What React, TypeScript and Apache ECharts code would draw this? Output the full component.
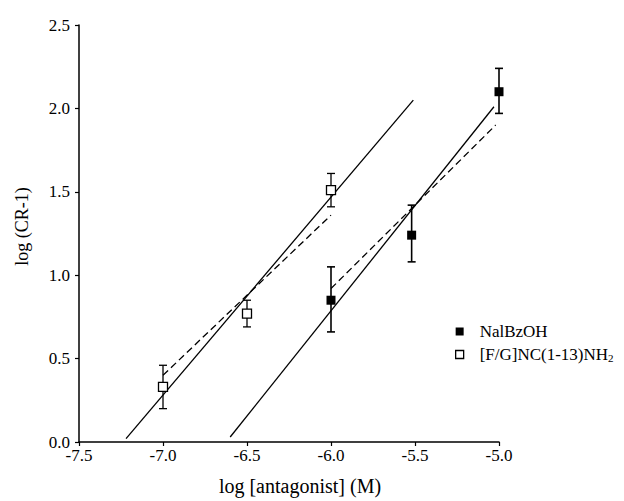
import React, { useEffect, useRef } from "react";
import * as echarts from "echarts";

// Tick values
const xTicks = [-7.5, -7.0, -6.5, -6.0, -5.5, -5.0];
const yTicks = [0.0, 0.5, 1.0, 1.5, 2.0, 2.5];

// NalBzOH (filled squares)
const filledX = [-6.0, -5.52, -5.0];
const filledY = [0.85, 1.24, 2.1];
const filledLow = [0.66, 1.08, 1.97];
const filledHigh = [1.05, 1.42, 2.24];

// [F/G]NC(1-13)NH2 (open squares)
const openX = [-7.0, -6.5, -6.0];
const openY = [0.33, 0.77, 1.51];
const openLow = [0.2, 0.69, 1.41];
const openHigh = [0.46, 0.85, 1.61];

// Regression lines (endpoints)
const openSolidX = [-7.22, -5.51];
const openSolidY = [0.02, 2.05];
const openDashX = [-7.0, -6.0];
const openDashY = [0.4, 1.36];
const filledSolidX = [-6.6, -5.03];
const filledSolidY = [0.03, 2.01];
const filledDashX = [-6.0, -5.02];
const filledDashY = [0.92, 1.9];

const FONT = "'Liberation Serif', 'Times New Roman', serif";

const zip = (a: number[], b: number[]) => a.map((v, i) => [v, b[i]]);
const zip3 = (a: number[], b: number[], c: number[]) => a.map((v, i) => [v, b[i], c[i]]);

const errorBar = (lw: number) => (params: any, api: any) => {
  const x = api.value(0);
  const lo = api.coord([x, api.value(1)]);
  const hi = api.coord([x, api.value(2)]);
  const hw = 4;
  const style = { stroke: "#000", lineWidth: lw };
  return {
    type: "group",
    children: [
      { type: "line", shape: { x1: lo[0], y1: lo[1], x2: hi[0], y2: hi[1] }, style },
      { type: "line", shape: { x1: lo[0] - hw, y1: lo[1], x2: lo[0] + hw, y2: lo[1] }, style },
      { type: "line", shape: { x1: hi[0] - hw, y1: hi[1], x2: hi[0] + hw, y2: hi[1] }, style },
    ],
  };
};

const lineSeries = (name: string, xs: number[], ys: number[], dashed: boolean) => ({
  name,
  type: "line",
  data: zip(xs, ys),
  symbol: "none",
  lineStyle: { color: "#000", width: 1.3, type: dashed ? [7, 4] : "solid" },
  z: 2,
  silent: true,
});

export default function App() {
  const ref = useRef<HTMLDivElement>(null);
  useEffect(() => {
    if (!ref.current) return;
    const chart = echarts.init(ref.current, undefined, { renderer: "svg" });
    const axisCommon = {
      type: "value",
      splitLine: { show: false },
      axisLine: { show: true, lineStyle: { color: "#000", width: 1.5 } },
      axisTick: { show: true, inside: false, length: 4, lineStyle: { color: "#000", width: 1.2 } },
      axisLabel: {
        color: "#000",
        fontFamily: FONT,
        fontSize: 17,
        formatter: (v: number) => v.toFixed(1),
      },
      nameTextStyle: { color: "#000", fontFamily: FONT, fontSize: 18 },
    };
    chart.setOption({
      animation: false,
      backgroundColor: "#fff",
      grid: { left: 79, right: 125, top: 25, bottom: 56, containLabel: false },
      xAxis: {
        ...axisCommon,
        min: xTicks[0],
        max: xTicks[xTicks.length - 1],
        interval: 0.5,
        name: "log [antagonist] (M)",
        nameLocation: "middle",
        nameGap: 34,
        nameTextStyle: { ...axisCommon.nameTextStyle, fontSize: 20, padding: [0, 0, 0, 22] },
        axisLabel: { ...axisCommon.axisLabel, margin: 5 },
      },
      yAxis: {
        ...axisCommon,
        min: yTicks[0],
        max: yTicks[yTicks.length - 1],
        interval: 0.5,
        name: "log (CR-1)",
        nameLocation: "middle",
        nameGap: 48,
        nameTextStyle: { ...axisCommon.nameTextStyle, padding: [0, 0, 0, 14] },
        axisLabel: { ...axisCommon.axisLabel, margin: 9 },
      },
      legend: {
        orient: "vertical",
        left: 450,
        top: 318,
        itemWidth: 8,
        itemHeight: 8,
        itemGap: 6,
        selectedMode: false,
        data: [
          { name: "NalBzOH", icon: "rect", itemStyle: { color: "#000", borderWidth: 0 } },
          {
            name: "[F/G]NC(1-13)NH2",
            icon: "rect",
            itemStyle: { color: "#fff", borderColor: "#000", borderWidth: 1.3 },
          },
        ],
        formatter: (name: string) =>
          name === "NalBzOH" ? "{t|NalBzOH}" : "{t|[F/G]NC(1-13)NH}{s|2}",
        textStyle: {
          color: "#000",
          fontFamily: FONT,
          fontSize: 17,
          padding: [0, 0, 0, 11],
          rich: {
            t: { fontFamily: FONT, fontSize: 17, color: "#000" },
            s: { fontFamily: FONT, fontSize: 11, color: "#000", verticalAlign: "bottom", padding: [6, 0, 0, 0] },
          },
        },
      },
      series: [
        lineSeries("openSolid", openSolidX, openSolidY, false),
        lineSeries("openDash", openDashX, openDashY, true),
        lineSeries("filledSolid", filledSolidX, filledSolidY, false),
        lineSeries("filledDash", filledDashX, filledDashY, true),
        {
          name: "filledErr",
          type: "custom",
          renderItem: errorBar(1.6),
          data: zip3(filledX, filledLow, filledHigh),
          encode: { x: 0, y: [1, 2] },
          z: 3,
          silent: true,
        },
        {
          name: "openErr",
          type: "custom",
          renderItem: errorBar(1.3),
          data: zip3(openX, openLow, openHigh),
          encode: { x: 0, y: [1, 2] },
          z: 3,
          silent: true,
        },
        {
          name: "NalBzOH",
          type: "scatter",
          data: zip(filledX, filledY),
          symbol: "rect",
          symbolSize: 9,
          itemStyle: { color: "#000", opacity: 1 },
          z: 4,
        },
        {
          name: "[F/G]NC(1-13)NH2",
          type: "scatter",
          data: zip(openX, openY),
          symbol: "rect",
          symbolSize: 9,
          itemStyle: { color: "#fff", borderColor: "#000", borderWidth: 1.3, opacity: 1 },
          z: 4,
        },
      ],
    });
    return () => chart.dispose();
  }, []);
  return (
    <div
      ref={ref}
      style={{ position: "fixed", left: 0, top: 0, width: 624, height: 501, background: "#fff" }}
    />
  );
}
